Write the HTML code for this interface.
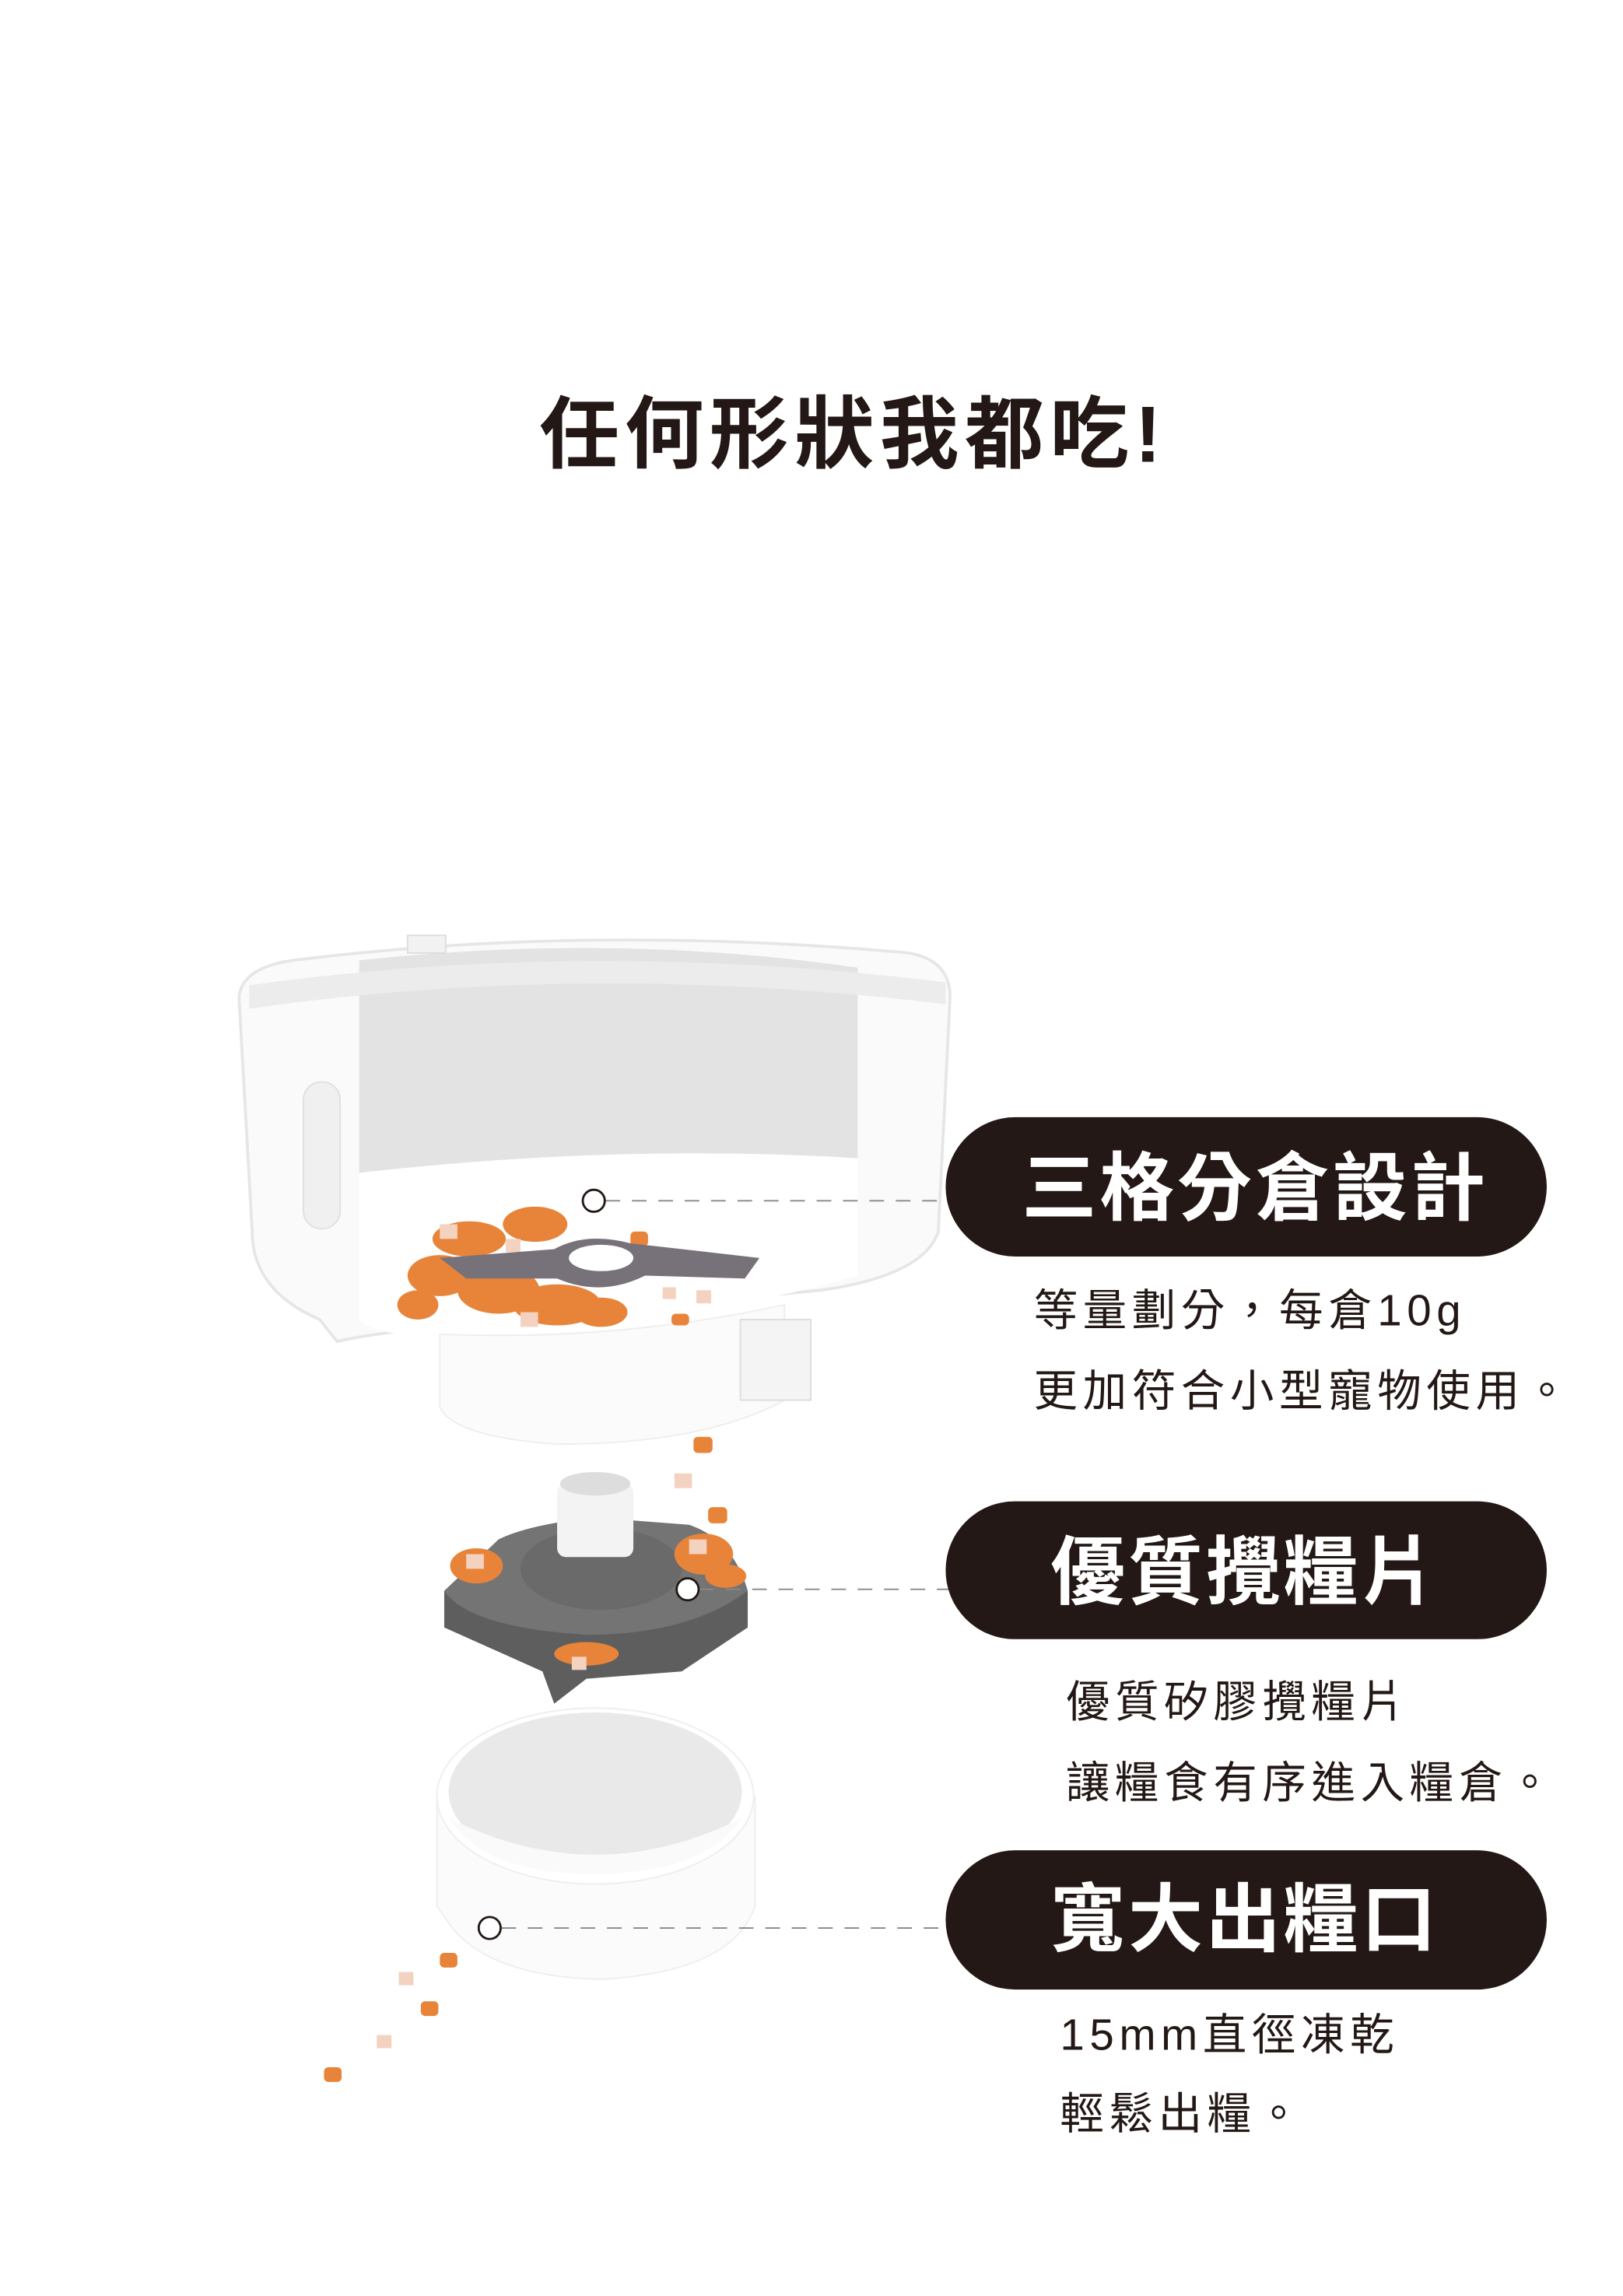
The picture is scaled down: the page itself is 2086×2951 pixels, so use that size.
<!DOCTYPE html>
<html><head><meta charset="utf-8"><style>
html,body{margin:0;padding:0;background:#fff;}
svg{display:block;}
text{font-family:"Liberation Sans","Noto Sans CJK TC",sans-serif;}
</style></head><body>
<svg width="2086" height="2951" viewBox="0 0 1107 1566" preserveAspectRatio="none" xmlns="http://www.w3.org/2000/svg">
<rect width="1107" height="1566" fill="#fff"/>
<text x="582" y="315" text-anchor="middle" font-size="54" font-weight="bold" fill="#231815" letter-spacing="4">任何形狀我都吃!</text>

<path d="M163 680 Q165 660 200 655 Q400 630 620 650 Q648 655 648 680 L640 840 Q630 870 560 880 L300 905 Q250 910 230 915 L218 900 Q172 880 172 840 Z" fill="#fafafa" stroke="#e6e6e6" stroke-width="2"/>
<path d="M245 655 Q420 636 585 660 L585 790 Q420 780 245 800 Z" fill="#e3e3e3"/>
<path d="M170 672 Q400 640 645 670 L645 685 Q400 655 170 688 Z" fill="#ececec"/>
<rect x="207" y="738" width="25" height="100" rx="12" fill="#f0f0f0" stroke="#e0e0e0"/>
<path d="M245 800 Q420 780 585 790 L585 870 Q480 900 340 912 Q260 915 245 900 Z" fill="#fff"/>
<path d="M300 910 Q420 915 535 890 L535 955 Q480 985 380 985 Q310 980 300 960 Z" fill="#fbfbfb" stroke="#eee"/>
<rect x="505" y="900" width="48" height="55" fill="#f4f4f4" stroke="#ddd"/>
<rect x="278" y="638" width="26" height="12" fill="#f2f2f2" stroke="#ddd"/>
<g fill="#e8843a">
<ellipse cx="300" cy="870" rx="22" ry="14"/><ellipse cx="340" cy="880" rx="28" ry="16"/><ellipse cx="380" cy="890" rx="30" ry="14"/>
<ellipse cx="320" cy="845" rx="25" ry="12"/><ellipse cx="365" cy="835" rx="22" ry="12"/><ellipse cx="410" cy="895" rx="18" ry="10"/>
<ellipse cx="285" cy="890" rx="14" ry="10"/><rect x="430" y="840" width="12" height="10" rx="3"/><rect x="452" y="856" width="10" height="10" rx="3"/><rect x="458" y="896" width="12" height="8" rx="3"/>
</g>
<g fill="#f3d2c0"><rect x="300" y="835" width="12" height="10"/><rect x="330" y="860" width="12" height="10"/><rect x="355" y="895" width="12" height="10"/><rect x="345" y="845" width="10" height="9"/><rect x="475" y="880" width="10" height="9"/><rect x="452" y="878" width="9" height="8"/></g>
<path d="M300 858 L378 852 Q400 840 430 848 L518 858 L508 872 L440 870 Q410 885 380 872 L318 872 Z" fill="#77717a"/>
<ellipse cx="410" cy="858" rx="22" ry="9" fill="#fff"/>

<g fill="#e8843a"><rect x="473" y="980" width="13" height="11" rx="3"/><rect x="483" y="1028" width="13" height="11" rx="3"/><rect x="400" y="1168" width="13" height="11" rx="3"/><rect x="365" y="1235" width="14" height="11" rx="3"/><rect x="300" y="1332" width="12" height="10" rx="3"/><rect x="287" y="1365" width="12" height="10" rx="3"/><rect x="221" y="1410" width="12" height="10" rx="3"/></g>
<g fill="#f3d2c0"><rect x="460" y="1005" width="12" height="10"/><rect x="385" y="1200" width="10" height="9"/><rect x="272" y="1345" width="10" height="9"/><rect x="257" y="1388" width="10" height="9"/></g>

<path d="M303 1085 L303 1110 L370 1140 L378 1162 L400 1145 L465 1140 L510 1110 L510 1085 Z" fill="#5e5e5e"/>
<path d="M340 1050 Q360 1040 405 1035 L470 1040 Q500 1050 510 1085 Q470 1115 400 1115 Q320 1110 303 1085 Z" fill="#747474"/>
<ellipse cx="410" cy="1070" rx="55" ry="28" fill="#6a6a6a"/>
<rect x="380" y="1012" width="52" height="50" rx="6" fill="#f3f3f3"/>
<ellipse cx="406" cy="1012" rx="24" ry="8" fill="#ddd"/>
<g fill="#e8843a"><ellipse cx="325" cy="1068" rx="18" ry="12"/><ellipse cx="480" cy="1060" rx="20" ry="14"/><ellipse cx="400" cy="1128" rx="22" ry="8"/><ellipse cx="495" cy="1075" rx="14" ry="8"/></g>
<g fill="#f3d2c0"><rect x="318" y="1060" width="12" height="10"/><rect x="470" y="1050" width="12" height="10"/><rect x="390" y="1130" width="10" height="9"/></g>

<path d="M298 1225 L298 1300 L305 1310 Q330 1348 410 1350 Q500 1345 515 1300 L515 1225 Z" fill="#fbfbfb" stroke="#eee"/>
<ellipse cx="406" cy="1225" rx="108" ry="60" fill="#fff" stroke="#eee"/>
<ellipse cx="406" cy="1222" rx="100" ry="54" fill="#e9e9e9"/>
<path d="M306 1240 Q406 1290 506 1240 Q480 1278 406 1278 Q330 1278 306 1240Z" fill="#fafafa"/>

<g stroke="#888" stroke-width="1" stroke-dasharray="10,8" fill="none">
<line x1="413" y1="819" x2="648" y2="819"/>
<line x1="477" y1="1084" x2="648" y2="1084"/>
<line x1="342" y1="1315" x2="648" y2="1315"/>
</g>
<g fill="#fff" stroke="#231815" stroke-width="1.5">
<circle cx="405" cy="819" r="7.5"/><circle cx="469" cy="1084" r="7.5"/><circle cx="334" cy="1315" r="7.5"/>
</g>

<g fill="#231815">
<rect x="645" y="762" width="410" height="95" rx="47.5"/>
<rect x="645" y="1024" width="410" height="94" rx="47"/>
<rect x="645" y="1262" width="410" height="95" rx="47.5"/>
</g>
<g fill="#fff" font-size="51" font-weight="bold" text-anchor="middle" letter-spacing="2">
<text x="856" y="828">三格分倉設計</text>
<text x="849" y="1090">優質攪糧片</text>
<text x="849" y="1327">寬大出糧口</text>
</g>
<g fill="#231815" font-size="30" letter-spacing="3.5">
<text x="705" y="904">等量劃分，每倉10g</text>
<text x="705" y="959">更加符合小型寵物使用。</text>
<text x="727" y="1171">優質矽膠攪糧片</text>
<text x="727" y="1226">讓糧食有序進入糧倉。</text>
<text x="723" y="1398">15mm直徑凍乾</text>
<text x="723" y="1452">輕鬆出糧。</text>
</g>
</svg>
</body></html>
